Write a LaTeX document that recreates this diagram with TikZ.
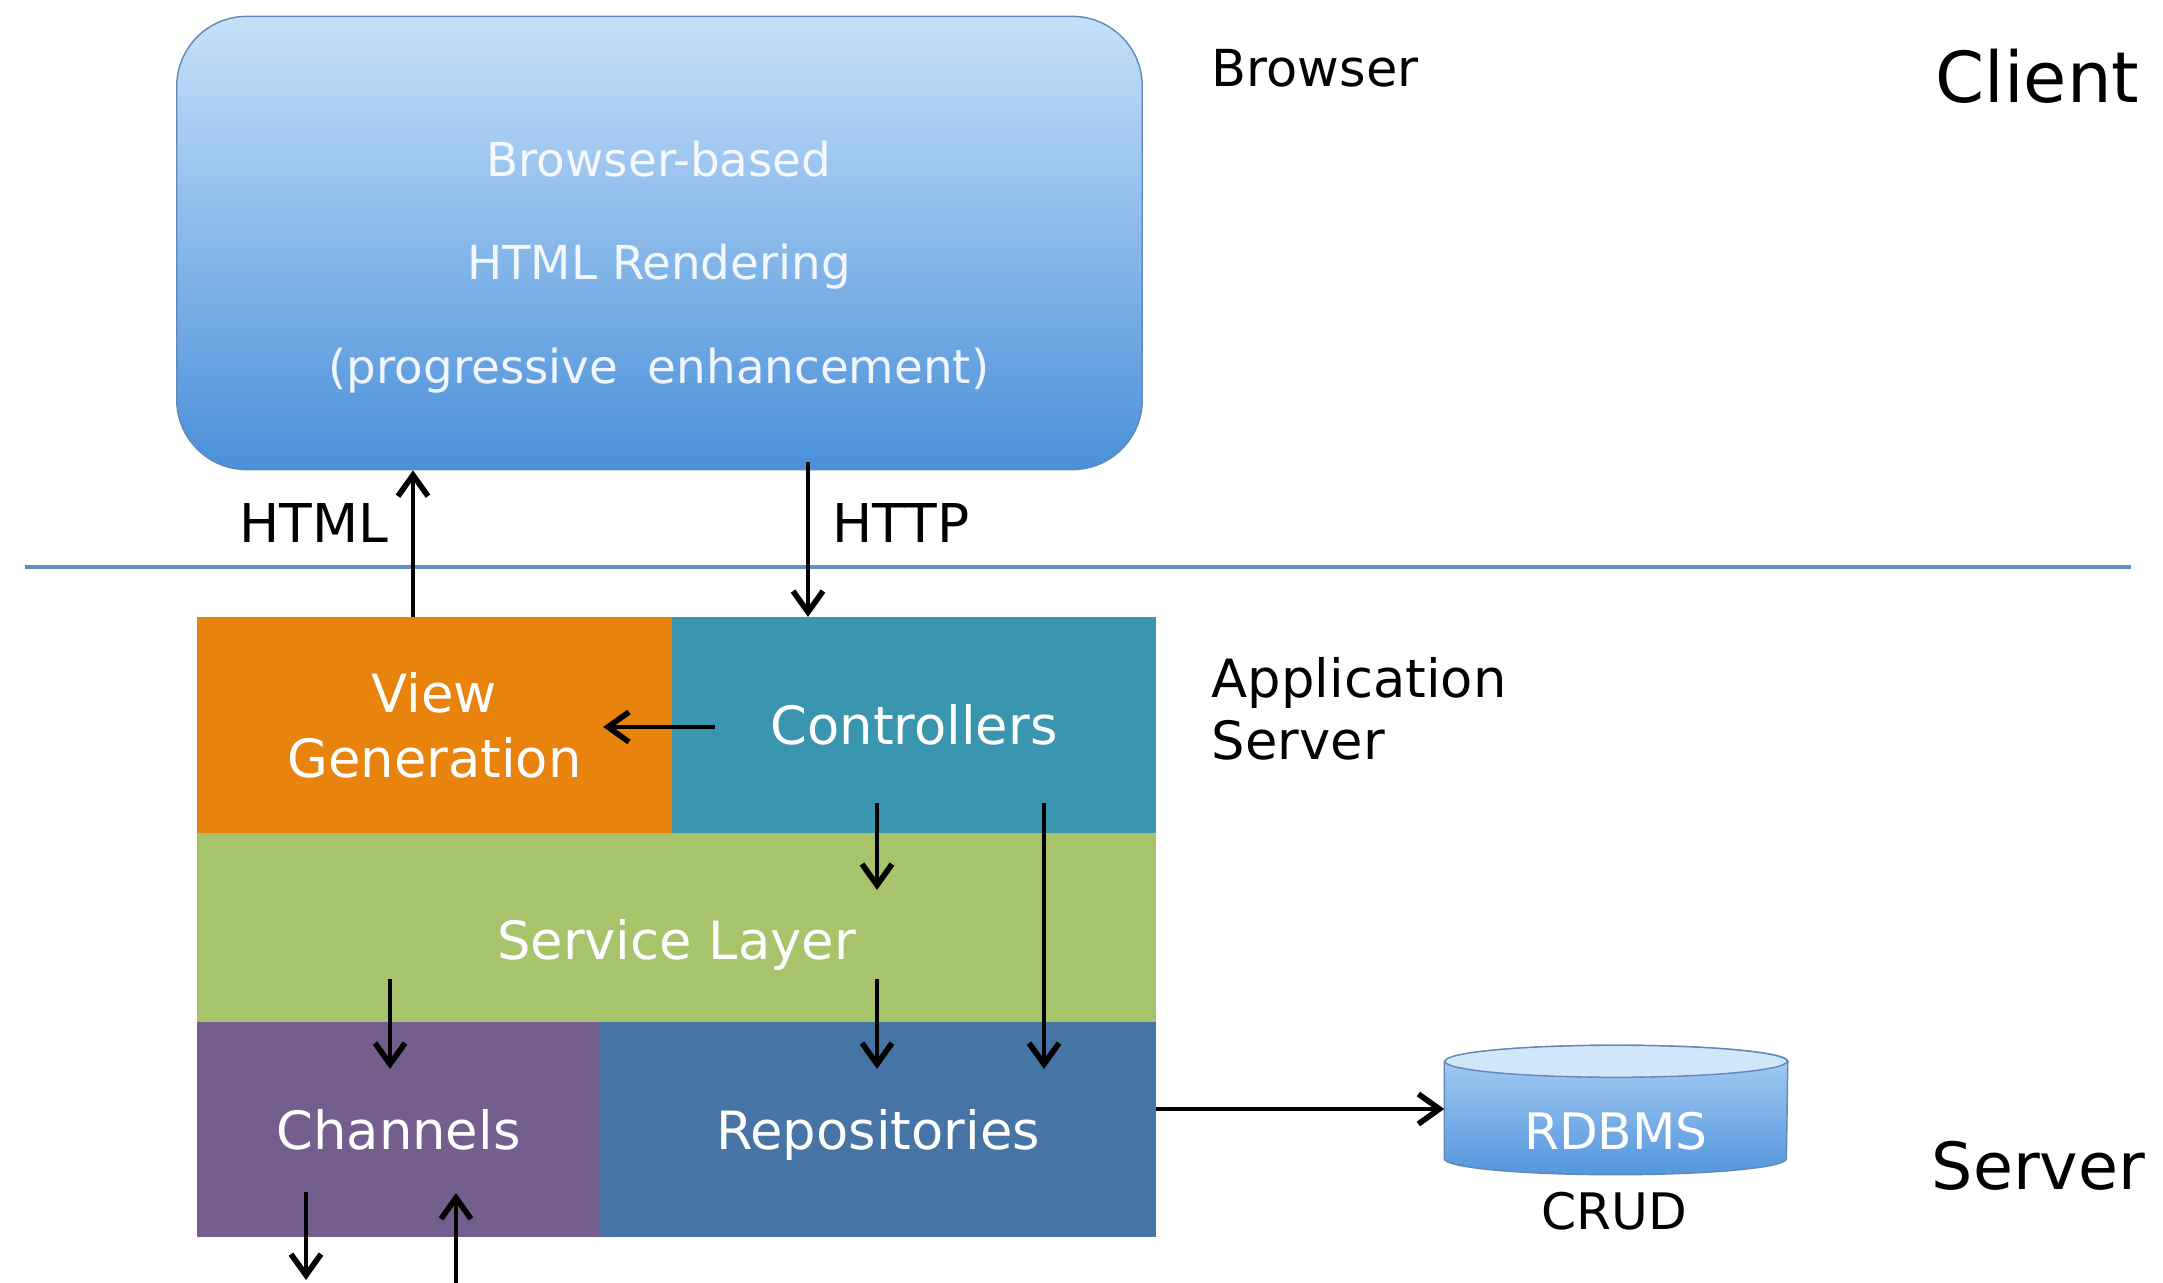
\documentclass[tikz,border=0pt]{standalone}
\usepackage{fontspec}
\setmainfont{DejaVu Sans}
\usetikzlibrary{arrows.meta,calc}

\definecolor{viewcol}{RGB}{232,131,14}
\definecolor{ctrlcol}{RGB}{58,150,174}
\definecolor{svccol}{RGB}{168,196,106}
\definecolor{chancol}{RGB}{116,94,142}
\definecolor{repocol}{RGB}{70,116,164}
\definecolor{skytop}{RGB}{198,224,249}
\definecolor{skybot}{RGB}{74,144,218}
\definecolor{dbtop}{RGB}{172,207,243}
\definecolor{dbbot}{RGB}{84,150,222}
\definecolor{dbcap}{RGB}{210,230,249}
\definecolor{rimcol}{RGB}{96,136,184}
\definecolor{tiercol}{RGB}{96,142,196}

\tikzset{
  layer/.style={rectangle, inner sep=0pt, outer sep=0pt, fill=#1, text=white,
    align=center, font=\fontsize{15}{18.5}\selectfont},
  flow/.style={-{Straight Barb[length=2.1mm,width=3mm,line width=1.6pt]}, line width=1.4pt},
  tag/.style={inner sep=0pt, font=\fontsize{#1}{#1}\selectfont},
}

\begin{document}
\begin{tikzpicture}[x=0.01cm,y=-0.01cm]
  \useasboundingbox (0,0) rectangle (2163,1283);
  \fill[white] (0,0) rectangle (2163,1283);

  % client side
  \node[rectangle, rounded corners=0.7cm, minimum width=9.65cm, minimum height=4.53cm,
    top color=skytop, bottom color=skybot, draw=rimcol, line width=0.4pt] (browser) at (659.5,243) {};
  \node[text=white, text opacity=0.9, align=center, font=\fontsize{13.3}{29.5}\selectfont]
    (render) at (659,267) {Browser-based\\HTML Rendering\\(progressive\ \ enhancement)};

  % tier divider
  \draw[tiercol, line width=1.2pt] (25,567) -- (2131,567);

  % application server stack
  \node[layer=viewcol, minimum width=4.75cm, minimum height=2.16cm] (view) at (434.5,725) {View\\Generation};
  \node[layer=ctrlcol, minimum width=4.84cm, minimum height=2.16cm] (ctrl) at (914,725) {Controllers};
  \node[layer=svccol, minimum width=9.59cm, minimum height=1.89cm, text height=0.75cm] (svc) at (676.5,927.5) {Service Layer};
  \node[layer=chancol, minimum width=4.03cm, minimum height=2.15cm] (chan) at (398.5,1129.5) {Channels};
  \node[layer=repocol, minimum width=5.56cm, minimum height=2.15cm, text height=0.51cm] (repo) at (878,1129.5) {Repositories};

  % database drum
  \node[rectangle, inner sep=0pt, minimum width=3.42cm, minimum height=0.96cm] (db) at (1616,1126) {};
  \path[draw=rimcol, line width=0.4pt, top color=dbtop, bottom color=dbbot]
    ($(db.north west)+(0,-16)$) -- ($(db.south west)+(0,-16)$)
    arc[start angle=180, end angle=360, x radius=1.71cm, y radius=0.16cm]
    -- ($(db.north east)+(0,-16)$)
    arc[start angle=0, end angle=180, x radius=1.71cm, y radius=0.16cm] -- cycle;
  \draw[rimcol, line width=0.4pt, fill=dbcap] ($(db.north)+(0,-16)$) ellipse [x radius=1.71cm, y radius=0.16cm];
  \node[tag=14.3, text=white] (dbtext) at ($(db.center)+(0,5)$) {RDBMS};
  \coordinate (dbin) at ($(db.west)+(0,-17)$);

  % labels
  \node[tag=14.5, anchor=base west] (browserlbl) at (1211,87) {Browser};
  \node[tag=20, anchor=base west] (clientlbl) at (1935,103) {Client};
  \node[tag=15.2, anchor=base east] (htmllbl) at (389,543) {HTML};
  \node[tag=15.2, anchor=base west] (httplbl) at (832,543) {HTTP};
  \node[inner sep=0pt, anchor=west, align=left, font=\fontsize{15}{17.6}\selectfont]
    (applbl) at (1211,709) {Application\\Server};
  \node[tag=18.5, anchor=base west] (serverlbl) at (1931,1190) {Server};
  \node[tag=14.3, anchor=base] (crud) at (1614,1229) {CRUD};

  % arrow columns
  \coordinate (htmlx) at (413,0);
  \coordinate (httpx) at (808,0);
  \coordinate (colA) at (877,0);
  \coordinate (colB) at (1044,0);
  \coordinate (colC) at (390,0);
  \coordinate (chanout) at (306,1280);
  \coordinate (chanin) at (456,1283);

  \draw[flow] (view.north -| htmlx) -- (browser.south -| htmlx);
  \draw[flow] ($(browser.south -| httpx)+(0,-8)$) -- (ctrl.north -| httpx);
  \draw[flow] ($(ctrl.west)+(43,2)$) -- ($(view.east)+(-69,2)$);
  \foreach \src/\dst/\col/\a/\b in {ctrl/svc/colA/-30/57, ctrl/repo/colB/-30/47,
      svc/repo/colA/-43/47, svc/chan/colC/-43/47} {
    \draw[flow] ($(\src.south -| \col)+(0,\a)$) -- ($(\dst.north -| \col)+(0,\b)$);
  }
  \draw[flow] ($(chan.south -| chanout)+(0,-45)$) -- (chanout);
  \draw[flow] (chanin) -- ($(chan.south -| chanin)+(0,-44)$);
  \draw[flow] (repo.east |- dbin) -- (dbin);
\end{tikzpicture}
\end{document}
